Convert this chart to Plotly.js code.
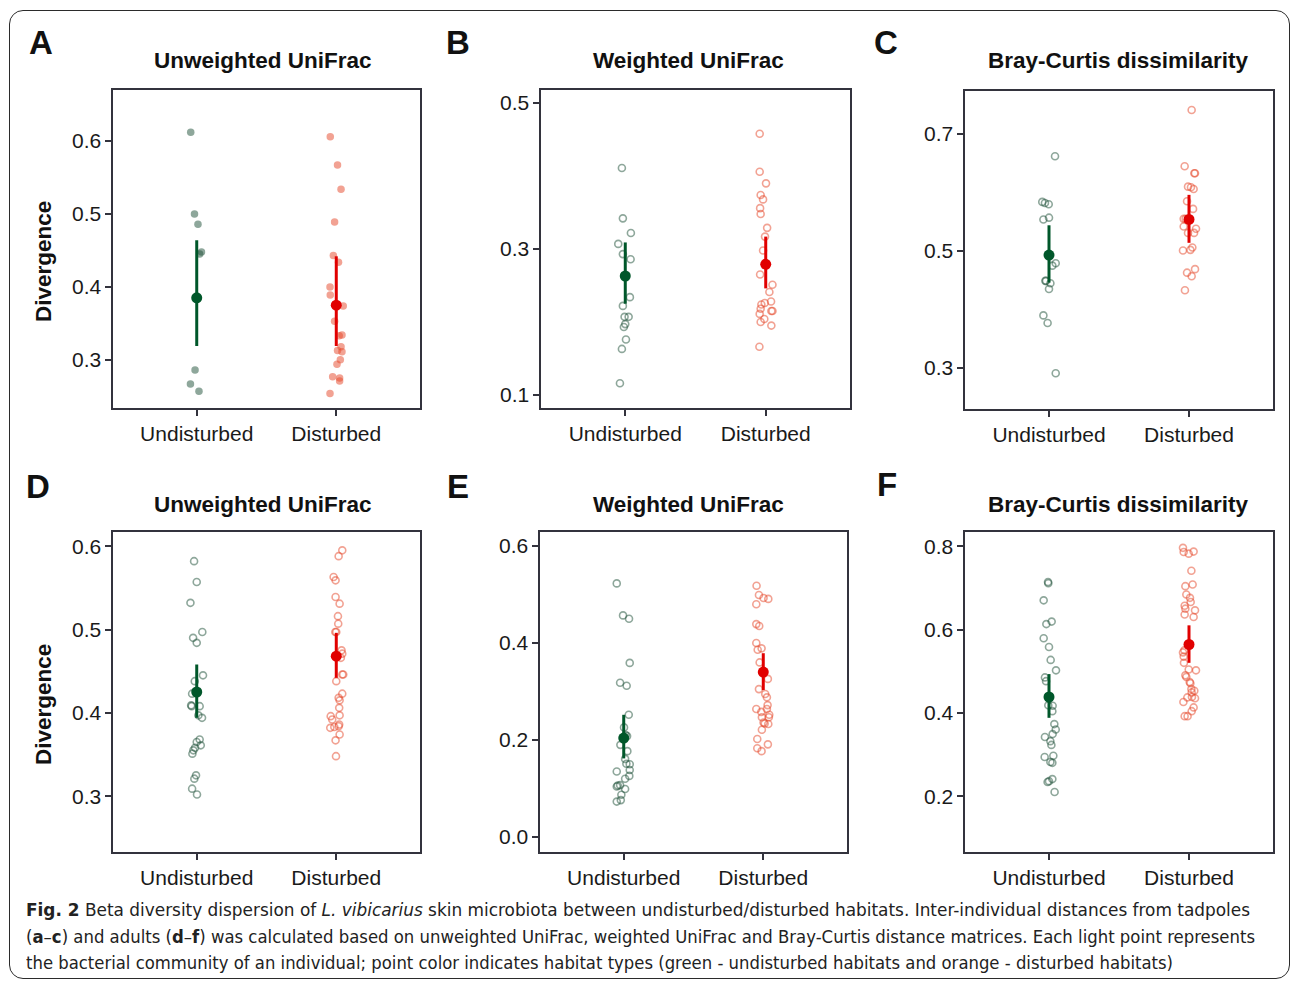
<!DOCTYPE html>
<html>
<head>
<meta charset="utf-8">
<script src="https://cdn.plot.ly/plotly-3.0.1.min.js"></script>
<style>
  html, body { margin:0; padding:0; background:#fff; }
  #wrap { position:relative; width:1290px; height:981px; overflow:hidden; background:#fff; }
  #frame { position:absolute; left:9px; top:10px; width:1281px; height:969px; box-sizing:border-box;
           border:1.6px solid #2b2b2b; border-radius:14px; }
  #plot { position:absolute; left:0; top:0; width:1290px; height:981px; }
  #cap { position:absolute; left:26px; top:897px; font-family:'Liberation Sans Narrow','DejaVu Sans Condensed','Open Sans',sans-serif;
         font-size:18px; color:#222; line-height:26.5px; }
  #cap .ln { white-space:nowrap; transform-origin:0 0; display:block; width:max-content; }
</style>
</head>
<body>
<div id="wrap">
  <div id="frame"></div>
  <div id="plot"></div>
  <div id="cap">
    <div class="ln" data-w="1224"><b>Fig. 2</b> Beta diversity dispersion of <i>L. vibicarius</i> skin microbiota between undisturbed/disturbed habitats. Inter-individual distances from tadpoles</div>
    <div class="ln" data-w="1229">(<b>a</b>–<b>c</b>) and adults (<b>d</b>–<b>f</b>) was calculated based on unweighted UniFrac, weighted UniFrac and Bray-Curtis distance matrices. Each light point represents</div>
    <div class="ln" data-w="1147">the bacterial community of an individual; point color indicates habitat types (green - undisturbed habitats and orange - disturbed habitats)</div>
  </div>
</div>
<script>
// ---------------- data ----------------
const categories = ['Undisturbed', 'Disturbed'];
const panelTitles = ['Unweighted UniFrac', 'Weighted UniFrac', 'Bray-Curtis dissimilarity',
                     'Unweighted UniFrac', 'Weighted UniFrac', 'Bray-Curtis dissimilarity'];
const panelLetters = ['A', 'B', 'C', 'D', 'E', 'F'];
const yTitle = 'Divergence';

// Panel A (tadpoles, unweighted UniFrac)
const aUnd = [0.612, 0.500, 0.486, 0.448, 0.445, 0.286, 0.267, 0.257];
const aUndJitter = [-0.043, -0.016, 0.009, 0.034, 0.021, -0.012, -0.045, 0.016];
const aDis = [0.606, 0.567, 0.534, 0.489, 0.443, 0.434, 0.400, 0.389, 0.374, 0.353, 0.333, 0.334, 0.318, 0.313, 0.311, 0.300, 0.294, 0.277, 0.275, 0.271, 0.254];
const aDisJitter = [-0.043, 0.009, 0.034, -0.012, -0.021, 0.016, -0.045, -0.043, 0.05, -0.012, 0.021, 0.041, 0.034, 0.009, 0.041, 0.029, 0.005, -0.026, 0.024, 0.024, -0.045];
const aMean = [0.385, 0.375];
const aLow  = [0.319, 0.319];
const aHigh = [0.464, 0.442];

// Panel B (tadpoles, weighted UniFrac)
const bUnd = [0.411, 0.342, 0.322, 0.307, 0.293, 0.286, 0.234, 0.222, 0.207, 0.207, 0.197, 0.193, 0.176, 0.163, 0.116];
const bUndJitter = [-0.024, -0.017, 0.040, -0.05, -0.017, 0.038, 0.033, -0.017, -0.005, 0.024, 0, -0.01, 0.005, -0.024, -0.038];
const bDis = [0.458, 0.406, 0.390, 0.374, 0.368, 0.356, 0.348, 0.329, 0.317, 0.298, 0.265, 0.251, 0.241, 0.228, 0.226, 0.224, 0.218, 0.215, 0.215, 0.211, 0.204, 0.200, 0.195, 0.166];
const bDisJitter = [-0.043, -0.043, 0.002, -0.036, -0.019, -0.04, -0.036, 0.01, -0.005, -0.019, -0.04, 0.048, 0.026, 0.038, -0.007, -0.031, -0.036, 0.04, 0.048, -0.043, -0.01, -0.036, 0.04, -0.045];
const bMean = [0.263, 0.279];
const bLow  = [0.225, 0.246];
const bHigh = [0.309, 0.317];

// Panel C (tadpoles, Bray-Curtis)
const cUnd = [0.662, 0.584, 0.582, 0.580, 0.554, 0.557, 0.479, 0.475, 0.449, 0.449, 0.445, 0.435, 0.390, 0.377, 0.291];
const cUndJitter = [0.043, -0.048, -0.029, -0.002, -0.04, 0, 0.048, 0.024, -0.026, -0.021, 0.01, 0, -0.04, -0.01, 0.048];
const cDis = [0.741, 0.645, 0.633, 0.633, 0.610, 0.609, 0.606, 0.585, 0.572, 0.555, 0.555, 0.542, 0.531, 0.538, 0.531, 0.506, 0.502, 0.501, 0.469, 0.463, 0.457, 0.433];
const cDisJitter = [0.019, -0.031, 0.038, 0.043, -0.007, 0.014, 0.033, -0.014, 0.029, -0.038, -0.024, -0.038, -0.007, 0.05, 0.036, 0.024, 0.01, -0.043, 0.043, -0.014, 0.019, -0.029];
const cMean = [0.493, 0.554];
const cLow  = [0.446, 0.514];
const cHigh = [0.544, 0.596];

// Panel D (adults, unweighted UniFrac)
const dUnd = [0.582, 0.557, 0.532, 0.497, 0.490, 0.484, 0.445, 0.438, 0.423, 0.409, 0.408, 0.408, 0.397, 0.394, 0.368, 0.365, 0.361, 0.358, 0.355, 0.351, 0.325, 0.321, 0.309, 0.302];
const dUndJitter = [-0.019, 0, -0.045, 0.040, -0.026, 0, 0.045, -0.014, -0.033, -0.040, -0.036, 0.021, 0.012, 0.038, 0.021, 0, 0.029, -0.012, -0.024, -0.031, -0.005, -0.017, -0.033, 0.002];
const dDis = [0.595, 0.588, 0.563, 0.559, 0.539, 0.531, 0.516, 0.507, 0.497, 0.497, 0.475, 0.471, 0.466, 0.446, 0.446, 0.438, 0.423, 0.418, 0.415, 0.406, 0.397, 0.396, 0.392, 0.386, 0.384, 0.382, 0.383, 0.374, 0.367, 0.348];
const dDisJitter = [0.043, 0.017, -0.019, -0.005, -0.005, 0.024, 0.012, 0.014, -0.007, 0, 0.038, 0.043, 0.033, 0.043, 0.05, 0, 0.043, 0.017, 0.024, 0.021, 0.024, -0.04, -0.029, 0.021, 0.017, -0.043, -0.014, 0.024, -0.005, -0.002];
const dMean = [0.425, 0.468];
const dLow  = [0.394, 0.442];
const dHigh = [0.458, 0.496];

// Panel E (adults, weighted UniFrac)
const eUnd = [0.523, 0.457, 0.450, 0.359, 0.318, 0.312, 0.252, 0.226, 0.210, 0.208, 0.190, 0.177, 0.161, 0.151, 0.150, 0.135, 0.138, 0.126, 0.120, 0.104, 0.106, 0.107, 0.099, 0.087, 0.076, 0.073];
const eUndJitter = [-0.05, -0.005, 0.038, 0.043, -0.026, 0.021, 0.036, 0.002, 0.014, 0.024, -0.024, 0.026, 0.01, 0.019, 0.043, -0.05, 0.043, 0.04, 0.01, -0.05, -0.043, -0.026, 0.01, -0.017, -0.021, -0.05];
const eDis = [0.518, 0.499, 0.493, 0.491, 0.480, 0.439, 0.435, 0.400, 0.389, 0.386, 0.360, 0.326, 0.305, 0.295, 0.288, 0.272, 0.264, 0.264, 0.258, 0.252, 0.247, 0.247, 0.236, 0.234, 0.233, 0.221, 0.202, 0.191, 0.183, 0.177];
const eDisJitter = [-0.048, -0.031, 0.002, 0.036, -0.05, -0.05, -0.029, -0.05, -0.012, -0.04, -0.026, 0.033, -0.031, 0.014, 0.026, 0.031, 0.026, -0.05, -0.014, 0.043, 0.04, -0.01, 0.002, 0.01, 0.036, -0.01, -0.043, 0.033, -0.043, -0.012];
const eMean = [0.204, 0.340];
const eLow  = [0.162, 0.303];
const eHigh = [0.252, 0.379];

// Panel F (adults, Bray-Curtis)
const fUnd = [0.714, 0.711, 0.670, 0.613, 0.619, 0.579, 0.558, 0.527, 0.502, 0.485, 0.476, 0.418, 0.417, 0.404, 0.373, 0.360, 0.349, 0.342, 0.332, 0.323, 0.294, 0.297, 0.282, 0.280, 0.234, 0.236, 0.241, 0.210];
const fUndJitter = [-0.007, -0.005, -0.038, -0.019, 0.019, -0.038, 0, 0.012, 0.05, -0.029, -0.021, -0.005, 0.026, 0.024, 0.038, 0.048, 0.026, -0.029, 0.01, 0.017, -0.031, 0.031, 0.01, 0.024, -0.01, 0, 0.024, 0.04];
const fDis = [0.796, 0.786, 0.782, 0.787, 0.741, 0.704, 0.708, 0.684, 0.676, 0.666, 0.657, 0.650, 0.646, 0.636, 0.630, 0.550, 0.545, 0.535, 0.520, 0.504, 0.502, 0.490, 0.486, 0.474, 0.471, 0.457, 0.453, 0.449, 0.437, 0.435, 0.438, 0.426, 0.413, 0.404, 0.392, 0.392];
const fDisJitter = [-0.043, -0.038, -0.002, 0.033, 0.017, -0.026, 0.026, -0.019, 0.007, 0.012, -0.031, -0.026, 0.043, -0.031, 0.033, -0.033, -0.043, -0.038, -0.036, -0.002, 0.05, -0.026, -0.019, 0.005, 0.01, 0.017, 0.038, 0.019, -0.012, 0.043, 0.021, -0.04, 0.033, 0.019, -0.031, -0.01];
const fMean = [0.438, 0.564];
const fLow  = [0.388, 0.520];
const fHigh = [0.493, 0.610];

// y-axis ranges and ticks
const yRanges = [[0.234, 0.670], [0.082, 0.518], [0.230, 0.7735], [0.233, 0.617], [-0.031, 0.629], [0.066, 0.834]];
const yTicks = [[0.3, 0.4, 0.5, 0.6], [0.1, 0.3, 0.5], [0.3, 0.5, 0.7], [0.3, 0.4, 0.5, 0.6], [0.0, 0.2, 0.4, 0.6], [0.2, 0.4, 0.6, 0.8]];

// ---------------- build ----------------
const panels = [
  {und: aUnd, undJ: aUndJitter, dis: aDis, disJ: aDisJitter, mean: aMean, low: aLow, high: aHigh, filled: true},
  {und: bUnd, undJ: bUndJitter, dis: bDis, disJ: bDisJitter, mean: bMean, low: bLow, high: bHigh, filled: false},
  {und: cUnd, undJ: cUndJitter, dis: cDis, disJ: cDisJitter, mean: cMean, low: cLow, high: cHigh, filled: false},
  {und: dUnd, undJ: dUndJitter, dis: dDis, disJ: dDisJitter, mean: dMean, low: dLow, high: dHigh, filled: false},
  {und: eUnd, undJ: eUndJitter, dis: eDis, disJ: eDisJitter, mean: eMean, low: eLow, high: eHigh, filled: false},
  {und: fUnd, undJ: fUndJitter, dis: fDis, disJ: fDisJitter, mean: fMean, low: fLow, high: fHigh, filled: false}
];

const W = 1290, H = 981;
// plot frames in pixels [x0, x1, y0, y1]
const boxes = [
  [113, 420, 90, 408], [541, 850, 90, 408], [965, 1273, 91, 409],
  [113, 420, 532, 852], [540, 847, 532, 852], [965, 1273, 532, 852]
];
const titlePos = [[263, 60], [688, 60], [1118, 60], [263, 505], [688, 505], [1118, 505]];
const letterPos = [[41, 43], [458, 43], [886, 42], [38, 487], [458, 487], [887, 484]];

const lightGreen = 'rgba(30,80,55,0.5)';
const lightRed = 'rgba(230,70,40,0.5)';
const darkGreen = '#00572a';
const darkRed = '#e10000';
const axisCol = '#33333d';
const FONT = '"Liberation Sans", Arimo, Arial, Helvetica, sans-serif';

const traces = [];
const layout = {
  width: W, height: H,
  margin: {l: 0, r: 0, t: 0, b: 0},
  paper_bgcolor: 'rgba(0,0,0,0)',
  plot_bgcolor: 'rgba(0,0,0,0)',
  showlegend: false,
  font: {family: FONT, color: '#1a1a1a'},
  annotations: []
};

panels.forEach((p, i) => {
  const n = i + 1;
  const xa = n === 1 ? 'x' : 'x' + n;
  const ya = n === 1 ? 'y' : 'y' + n;
  const b = boxes[i];

  const mk = (color) => p.filled
    ? {symbol: 'circle', size: 7.5, color: color, line: {width: 0}}
    : {symbol: 'circle-open', size: 7, color: color, line: {width: 1.6, color: color}};

  traces.push({
    type: 'scatter', mode: 'markers', xaxis: xa, yaxis: ya,
    x: p.und.map((v, k) => 0 + p.undJ[k]), y: p.und,
    marker: mk(lightGreen), hoverinfo: 'y', cliponaxis: false
  });
  traces.push({
    type: 'scatter', mode: 'markers', xaxis: xa, yaxis: ya,
    x: p.dis.map((v, k) => 1 + p.disJ[k]), y: p.dis,
    marker: mk(lightRed), hoverinfo: 'y', cliponaxis: false
  });
  [0, 1].forEach(c => {
    const col = c === 0 ? darkGreen : darkRed;
    traces.push({
      type: 'scatter', mode: 'markers', xaxis: xa, yaxis: ya,
      x: [c], y: [p.mean[c]],
      marker: {symbol: 'circle', size: 11, color: col},
      error_y: {type: 'data', symmetric: false,
                array: [p.high[c] - p.mean[c]], arrayminus: [p.mean[c] - p.low[c]],
                thickness: 3, width: 0, color: col},
      hoverinfo: 'y'
    });
  });

  layout['xaxis' + (n === 1 ? '' : n)] = {
    domain: [b[0] / W, b[1] / W], anchor: ya,
    range: [-0.6, 1.6], tickvals: [0, 1], ticktext: categories,
    showgrid: false, zeroline: false,
    showline: true, mirror: true, linecolor: axisCol, linewidth: 1.6,
    ticks: 'outside', ticklen: 6, tickwidth: 2, tickcolor: axisCol,
    tickfont: {size: 21, family: FONT, color: '#1a1a1a'}
  };
  layout['yaxis' + (n === 1 ? '' : n)] = {
    domain: [1 - b[3] / H, 1 - b[2] / H], anchor: xa,
    range: yRanges[i], tickvals: yTicks[i], tickformat: '.1f',
    showgrid: false, zeroline: false,
    showline: true, mirror: true, linecolor: axisCol, linewidth: 1.6,
    ticks: 'outside', ticklen: 6, tickwidth: 2, tickcolor: axisCol,
    tickfont: {size: 21, family: FONT, color: '#1a1a1a'}
  };

  layout.annotations.push({
    xref: 'paper', yref: 'paper', x: titlePos[i][0] / W, y: 1 - titlePos[i][1] / H,
    xanchor: 'center', yanchor: 'middle', showarrow: false,
    text: '<b>' + panelTitles[i] + '</b>', font: {size: 22.5, family: FONT, color: '#111'}
  });
  layout.annotations.push({
    xref: 'paper', yref: 'paper', x: letterPos[i][0] / W, y: 1 - letterPos[i][1] / H,
    xanchor: 'center', yanchor: 'middle', showarrow: false,
    text: '<b>' + panelLetters[i] + '</b>', font: {size: 33, family: FONT, color: '#111'}
  });
});

[262, 705].forEach(yc => {
  layout.annotations.push({
    xref: 'paper', yref: 'paper', x: 43 / W, y: 1 - yc / H,
    xanchor: 'center', yanchor: 'middle', showarrow: false, textangle: -90,
    text: '<b>' + yTitle + '</b>', font: {size: 22.5, family: FONT, color: '#111'}
  });
});

Plotly.newPlot('plot', traces, layout, {staticPlot: true, displayModeBar: false});

// fit caption lines to their measured widths in the reference
document.querySelectorAll('#cap .ln').forEach(el => {
  const target = parseFloat(el.dataset.w);
  const w = el.getBoundingClientRect().width;
  if (w > 0) el.style.transform = 'scaleX(' + (target / w) + ')';
});
</script>
</body>
</html>
